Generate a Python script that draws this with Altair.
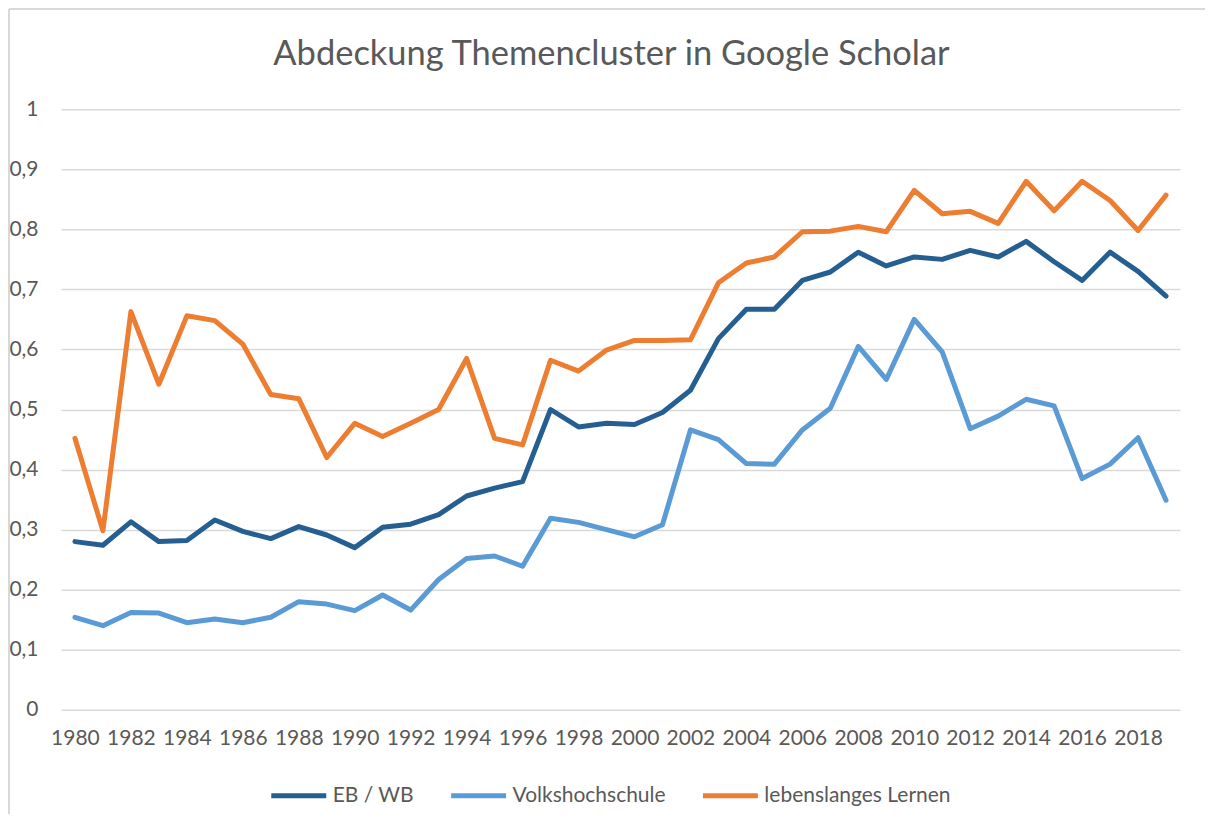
import altair as alt
import pandas as pd

years = list(range(1980, 2020))

eb_wb = [0.280, 0.274, 0.313, 0.280, 0.282, 0.316, 0.297, 0.285, 0.305, 0.291,
         0.270, 0.304, 0.309, 0.325, 0.356, 0.369, 0.380, 0.500, 0.471, 0.477,
         0.475, 0.495, 0.532, 0.618, 0.667, 0.667, 0.715, 0.729, 0.762, 0.739,
         0.754, 0.750, 0.765, 0.754, 0.780, 0.746, 0.715, 0.762, 0.730, 0.689]

vhs = [0.154, 0.140, 0.162, 0.161, 0.145, 0.151, 0.145, 0.154, 0.180, 0.176,
       0.165, 0.191, 0.166, 0.217, 0.252, 0.256, 0.239, 0.319, 0.312, 0.300,
       0.288, 0.308, 0.466, 0.450, 0.410, 0.409, 0.466, 0.502, 0.605, 0.550,
       0.650, 0.596, 0.468, 0.489, 0.517, 0.506, 0.385, 0.409, 0.453, 0.349]

lll = [0.452, 0.298, 0.663, 0.542, 0.656, 0.648, 0.609, 0.525, 0.518, 0.420,
       0.477, 0.455, 0.477, 0.500, 0.585, 0.452, 0.441, 0.582, 0.564, 0.599,
       0.615, 0.615, 0.616, 0.711, 0.744, 0.754, 0.796, 0.797, 0.805, 0.796,
       0.865, 0.826, 0.830, 0.810, 0.880, 0.831, 0.880, 0.848, 0.798, 0.857]

series_names = ["EB / WB", "Volkshochschule", "lebenslanges Lernen"]
series_colors = ["#255E91", "#5B9BD5", "#ED7D31"]
x_ticks = list(range(1980, 2019, 2))
y_ticks = [round(i * 0.1, 1) for i in range(11)]

rows = []
for name, vals in zip(series_names, [eb_wb, vhs, lll]):
    for yr, v in zip(years, vals):
        rows.append({"Jahr": yr, "Wert": v, "Serie": name})
df = pd.DataFrame(rows)

FONT = "Lato"
TXT = "#595959"
GRID = "#D9D9D9"

lines = alt.Chart(df).mark_line(strokeWidth=5, strokeCap="round", strokeJoin="round").encode(
    x=alt.X("Jahr:Q",
            scale=alt.Scale(domain=[1979.5, 2019.5], nice=False, zero=False),
            axis=alt.Axis(values=x_ticks, format="d", title=None, grid=False, domain=False,
                          ticks=False, tickSize=0, labelPadding=18, labelFontSize=21,
                          labelFont=FONT, labelColor=TXT, labelFlush=False)),
    y=alt.Y("Wert:Q",
            scale=alt.Scale(domain=[0, 1], nice=False),
            axis=alt.Axis(values=y_ticks, title=None, domain=False, ticks=False, tickSize=0,
                          labelPadding=23, labelFontSize=21, labelFont=FONT, labelColor=TXT,
                          gridColor=GRID, gridWidth=1.5,
                          labelExpr="replace(format(datum.value, '.1~f'), '.', ',')")),
    color=alt.Color("Serie:N",
                    scale=alt.Scale(domain=series_names, range=series_colors),
                    legend=alt.Legend(title=None, orient="none", direction="horizontal",
                                      legendX=208, legendY=657, symbolType="stroke",
                                      symbolSize=3025, symbolStrokeWidth=5,
                                      labelFontSize=21, labelFont=FONT, labelColor=TXT,
                                      labelLimit=400, labelOffset=4, columnPadding=26,
                                      padding=0)),
    order=alt.Order("Jahr:Q"),
)

left_border = alt.Chart(df).mark_rule(color=GRID, strokeWidth=1.5).encode(
    x=alt.value(-52), y=alt.value(-100), y2=alt.value(705))
top_border = alt.Chart(df).mark_rule(color=GRID, strokeWidth=1.5).encode(
    x=alt.value(-52), x2=alt.value(1145), y=alt.value(-100))

chart = alt.layer(left_border, top_border, lines).properties(
    width=1120,
    height=601,
    padding=0,
    title=alt.TitleParams("Abdeckung Themencluster in Google Scholar", fontSize=34.5,
                          font=FONT, fontWeight="normal", color=TXT, anchor="middle",
                          baseline="alphabetic", offset=-91, dx=-9),
).configure_view(stroke=None)

chart.save("out.html", embed_options={"renderer": "svg", "actions": False})
